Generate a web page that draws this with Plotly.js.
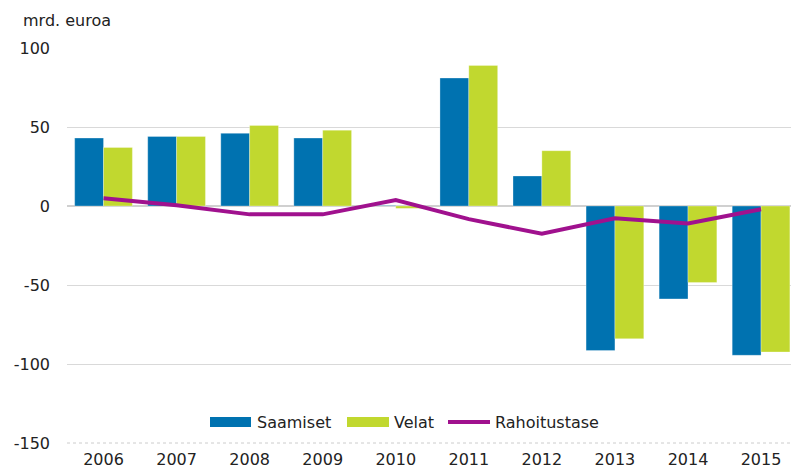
<!DOCTYPE html>
<html>
<head>
<meta charset="utf-8">
<script src="https://cdn.plot.ly/plotly-3.0.1.min.js"></script>
<style>html,body{margin:0;padding:0;background:#fff;}#chart{width:791px;height:472px;}</style>
</head>
<body>
<div id="chart"></div>
<script>
const years = ["2006","2007","2008","2009","2010","2011","2012","2013","2014","2015"];
const saamiset = [43, 44, 46, 43, 0.3, 81, 19, -91.5, -58.8, -94.5];
const velat = [37, 44, 51, 48, -1.5, 89, 35, -84, -48.4, -92.4];
const rahoitustase = [4.9, 0.5, -5.3, -5.3, 3.8, -8.3, -17.6, -7.8, -11, -2.1];
const seriesNames = ["Saamiset", "Velat", "Rahoitustase"];
const yTicks = [-150, -100, -50, 0, 50, 100];
const yUnit = "mrd. euroa";

const FONT = "DejaVu Sans, Arial, sans-serif";
const TXT = "#222222";
const C_BLUE = "#0072b0";
const C_GREEN = "#c1d82f";
const C_PURPLE = "#a0118e";

// plot area in pixels: left 67, top 48, width 724, height 395
const L = 67, T = 48, W = 724, H = 395;
const px = x => (x - L) / W;
const py = y => (T + H - y) / H;

const traces = [
  {type: "bar", x: years, y: saamiset, name: seriesNames[0], marker: {color: C_BLUE, line: {color: "rgba(255,255,255,0.6)", width: 0.5}}, showlegend: false, hoverinfo: "x+y"},
  {type: "bar", x: years, y: velat, name: seriesNames[1], marker: {color: C_GREEN, line: {color: "rgba(255,255,255,0.6)", width: 0.5}}, showlegend: false, hoverinfo: "x+y"},
  {type: "scatter", mode: "lines", x: years, y: rahoitustase, name: seriesNames[2], line: {color: C_PURPLE, width: 4}, showlegend: false}
];

// custom legend (wide swatches like reference)
const legY = 422;
const shapes = [
  {type: "rect", xref: "paper", yref: "paper", x0: px(210), x1: px(251), y0: py(427), y1: py(417), fillcolor: C_BLUE, line: {width: 0}},
  {type: "rect", xref: "paper", yref: "paper", x0: px(347), x1: px(389), y0: py(427), y1: py(417), fillcolor: C_GREEN, line: {width: 0}},
  {type: "line", xref: "paper", yref: "paper", x0: px(448), x1: px(490), y0: py(legY), y1: py(legY), line: {color: C_PURPLE, width: 4}},
  {type: "line", xref: "paper", yref: "paper", x0: 0, x1: 1, y0: 0, y1: 0, line: {color: "#cccccc", width: 1, dash: "dot"}}
];
const annotations = [
  {xref: "paper", yref: "paper", x: px(255), y: py(legY), xanchor: "left", yanchor: "middle", text: seriesNames[0], showarrow: false, font: {family: FONT, size: 16, color: TXT}},
  {xref: "paper", yref: "paper", x: px(392), y: py(legY), xanchor: "left", yanchor: "middle", text: seriesNames[1], showarrow: false, font: {family: FONT, size: 16, color: TXT}},
  {xref: "paper", yref: "paper", x: px(493), y: py(legY), xanchor: "left", yanchor: "middle", text: seriesNames[2], showarrow: false, font: {family: FONT, size: 16, color: TXT}},
  {xref: "paper", yref: "paper", x: px(21), y: py(20), xanchor: "left", yanchor: "middle", text: yUnit, showarrow: false, font: {family: FONT, size: 16, color: TXT}}
];

const layout = {
  width: 791, height: 472,
  margin: {l: L, r: 0, t: T, b: 472 - T - H, pad: 0},
  paper_bgcolor: "#ffffff", plot_bgcolor: "#ffffff",
  barmode: "group", bargap: 0.21, bargroupgap: 0,
  font: {family: FONT, size: 16, color: TXT},
  showlegend: false,
  xaxis: {
    type: "category", range: [-0.5, 9.41], showgrid: false, zeroline: false, showline: false,
    ticks: "", ticklabelstandoff: 5, tickfont: {family: FONT, size: 16, color: TXT}, fixedrange: true
  },
  yaxis: {
    range: [-150, 100], tickvals: yTicks, ticktext: yTicks.map(v => v < 0 ? "-" + Math.abs(v) : String(v)),
    showgrid: true, gridcolor: "#d9d9d9", gridwidth: 1,
    zeroline: true, zerolinecolor: "#d0d0d0", zerolinewidth: 1.5,
    showline: false, ticks: "", ticklabelstandoff: 16,
    tickfont: {family: FONT, size: 16, color: TXT}, fixedrange: true
  },
  shapes: shapes,
  annotations: annotations
};

Plotly.newPlot("chart", traces, layout, {displayModeBar: false, staticPlot: true});
</script>
</body>
</html>
